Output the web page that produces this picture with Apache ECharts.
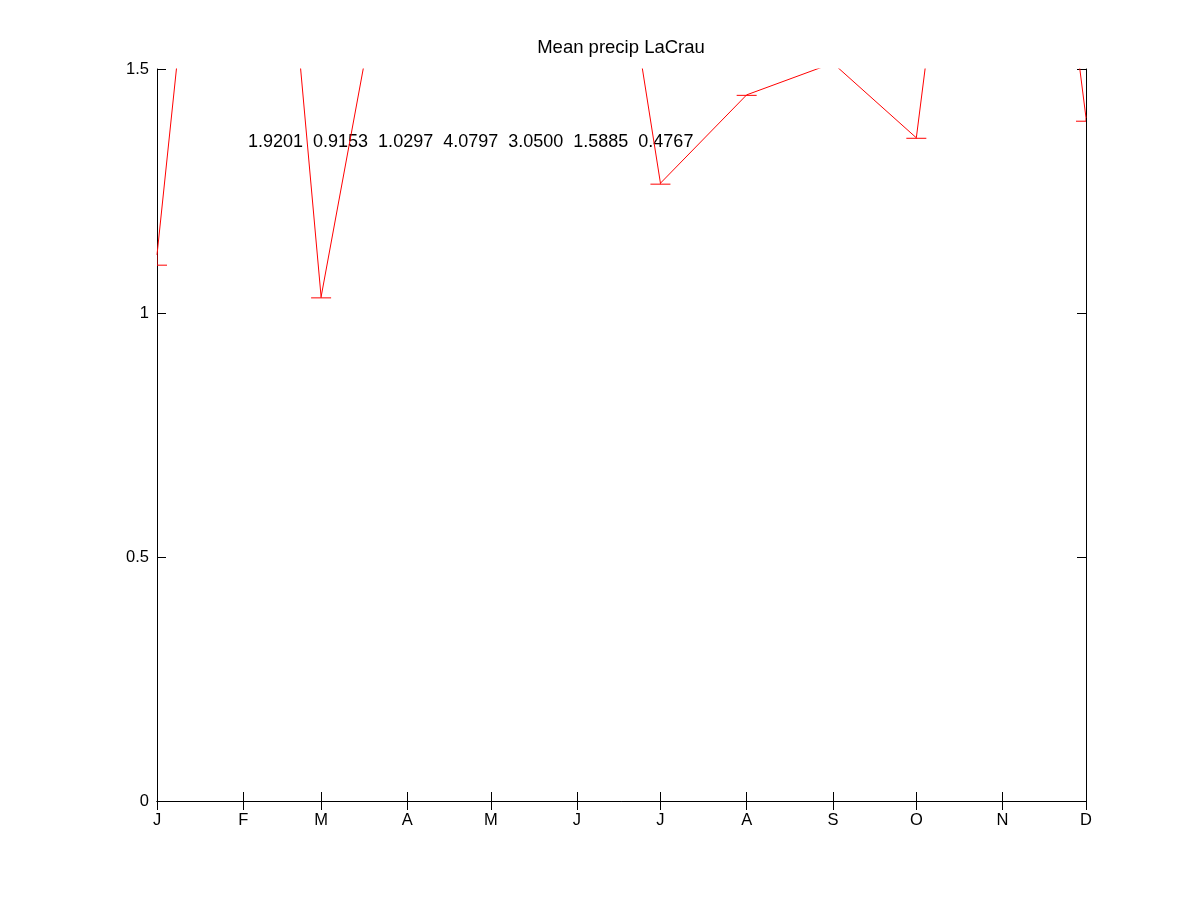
<!DOCTYPE html>
<html>
<head>
<meta charset="utf-8">
<script src="https://cdn.jsdelivr.net/npm/echarts@6/dist/echarts.min.js"></script>
<style>html,body{margin:0;padding:0;background:#fff}#c{width:1200px;height:901px}</style>
</head>
<body>
<div id="c"></div>
<script>
// Day-of-year of the first day of each month (x positions of monthly points)
var monthDays = [1, 32, 60, 91, 121, 152, 182, 213, 244, 274, 305, 335];
var monthLabels = ['J', 'F', 'M', 'A', 'M', 'J', 'J', 'A', 'S', 'O', 'N', 'D'];
// Monthly mean precipitation (values above 1.5 are off the visible range)
var meanPrecip = [1.119, 2.81, 1.033, 1.99, 2.2, 2.35, 1.266, 1.447, 1.512, 1.359, 2.75, 1.400];
// Lower end of error bars
var errLow = [1.098, 2.79, 1.031, 1.97, 2.18, 2.33, 1.264, 1.446, 1.510, 1.358, 2.73, 1.393];
// Printed annotation values
var annotations = ['1.9201', '0.9153', '1.0297', '4.0797', '3.0500', '1.5885', '0.4767'];

var chart = echarts.init(document.getElementById('c'));
var F = 'Liberation Sans';
var lineData = monthDays.map(function (d, i) { return [d, meanPrecip[i]]; });
var errData = monthDays.map(function (d, i) { return [d, meanPrecip[i], errLow[i]]; });

chart.setOption({
  animation: false,
  backgroundColor: '#fff',
  title: {
    text: 'Mean precip LaCrau',
    left: 621, top: 38, padding: 0, textAlign: 'center',
    textStyle: { fontFamily: F, fontSize: 18.5, fontWeight: 'normal', color: '#000' }
  },
  grid: { left: 157, right: 114, top: 69, bottom: 100, show: false },
  xAxis: [{
    type: 'value', min: 1, max: 335, position: 'bottom',
    axisLine: { show: true, lineStyle: { color: '#000', width: 1 } },
    axisTick: { show: true, inside: true, length: 9, customValues: monthDays, lineStyle: { color: '#000' } },
    axisLabel: {
      show: true, customValues: monthDays, margin: 11,
      fontFamily: F, fontSize: 16.5, color: '#000',
      formatter: function (v) { var i = monthDays.indexOf(v); return i >= 0 ? monthLabels[i] : ''; }
    },
    splitLine: { show: false }
  }, {
    type: 'value', min: 1, max: 335, position: 'top',
    axisLine: { show: true, lineStyle: { color: '#000', width: 1 } },
    axisTick: { show: true, inside: true, length: 9, customValues: monthDays, lineStyle: { color: '#000' } },
    axisLabel: { show: false },
    splitLine: { show: false }
  }],
  yAxis: [{
    type: 'value', min: 0, max: 1.5, interval: 0.5, position: 'left',
    axisLine: { show: true, lineStyle: { color: '#000', width: 1 } },
    axisTick: { show: true, inside: true, length: 9, lineStyle: { color: '#000' } },
    axisLabel: { show: true, margin: 8, fontFamily: F, fontSize: 16.5, color: '#000',
      formatter: function (v) { return String(v); } },
    splitLine: { show: false }
  }, {
    type: 'value', min: 0, max: 1.5, interval: 0.5, position: 'right',
    axisLine: { show: true, lineStyle: { color: '#000', width: 1 } },
    axisTick: { show: true, inside: true, length: 9, lineStyle: { color: '#000' } },
    axisLabel: { show: false },
    splitLine: { show: false }
  }],
  graphic: [{
    type: 'text', left: 248, top: 133,
    style: { text: annotations.join('  '), fontFamily: F, fontSize: 18, fill: '#000' }
  }],
  series: [{
    type: 'line', data: lineData, showSymbol: false, clip: true,
    lineStyle: { color: '#ff0000', width: 1 }, z: 3
  }, {
    type: 'custom', data: errData, clip: true, z: 4,
    renderItem: function (params, api) {
      var x = api.value(0);
      var top = api.coord([x, api.value(1)]);
      var low = api.coord([x, api.value(2)]);
      var cs = params.coordSys;
      var half = 10;
      var children = [
        { type: 'line', shape: { x1: low[0], y1: top[1], x2: low[0], y2: low[1] }, style: { stroke: '#ff0000', lineWidth: 1 } },
        { type: 'line', shape: { x1: low[0] - half, y1: low[1], x2: low[0] + half, y2: low[1] }, style: { stroke: '#ff0000', lineWidth: 1 } }
      ];
      return {
        type: 'group', children: children,
        clipPath: { type: 'rect', shape: { x: cs.x, y: cs.y, width: cs.width, height: cs.height } }
      };
    }
  }]
});
</script>
</body>
</html>
